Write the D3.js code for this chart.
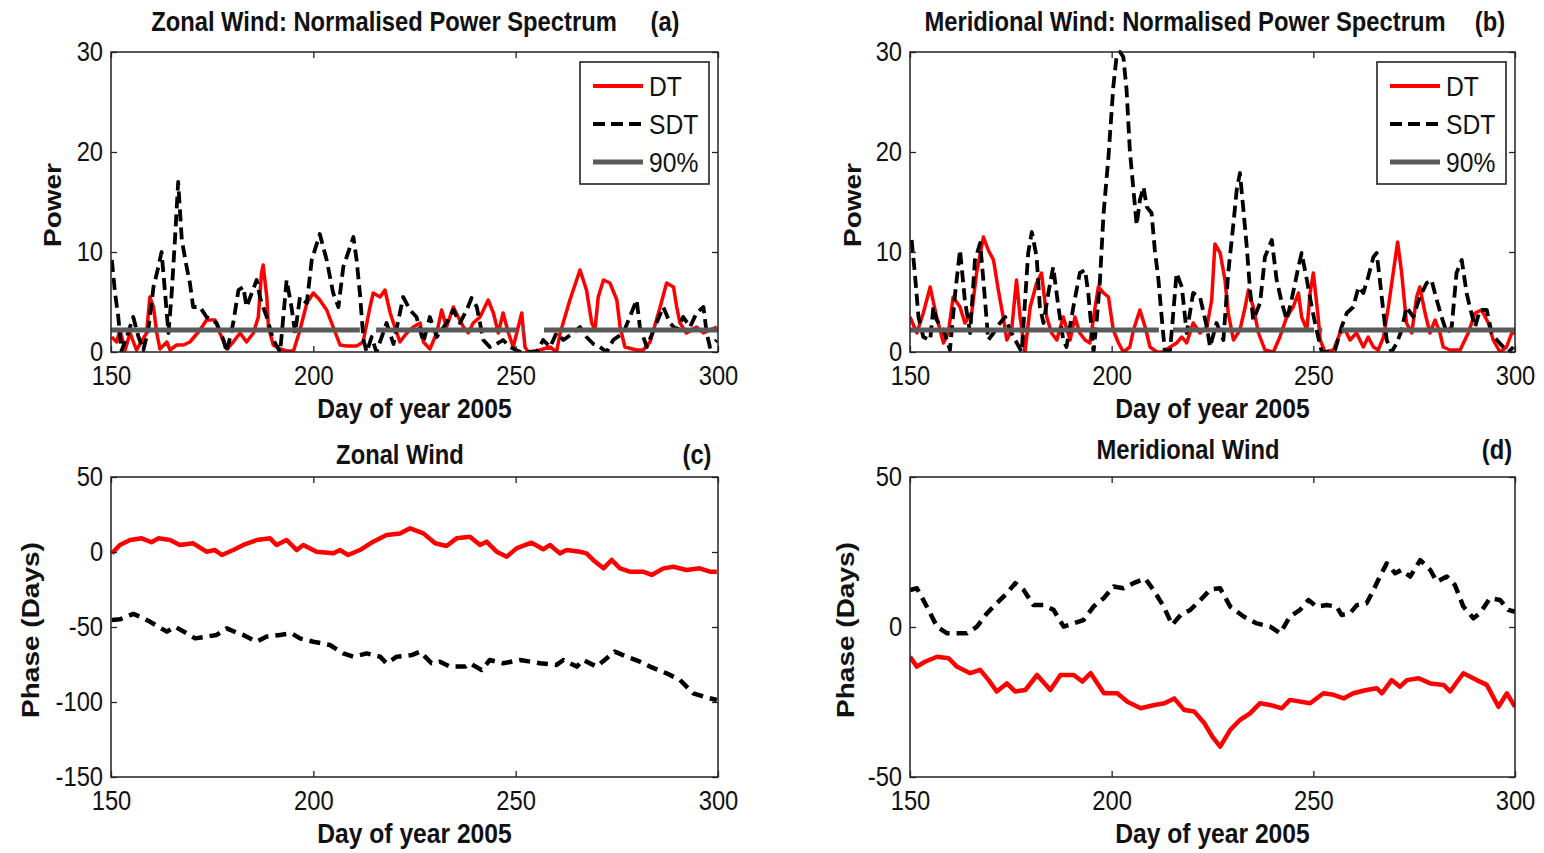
<!DOCTYPE html>
<html>
<head>
<meta charset="utf-8">
<script src="https://cdn.jsdelivr.net/npm/d3@7"></script>
<style>
  body { margin: 0; background: #fff; }
  text { font-family: "Liberation Sans", Arial, sans-serif; fill: #111; }
</style>
</head>
<body>
<script>
// ---- data: [day of year, value] ----

// (a) zonal wind, normalised power
var zonalDT = [[150.2,1.5],[151.4,1.0],[152.2,2.2],[153.5,0.2],[154.7,1.9],[156.3,0.2],[158.8,1.9],[159.6,5.5],[160.5,4.5],[161.3,1.9],[162.1,0.3],[163.8,1.0],[164.6,0.2],[166.2,0.7],[167.9,0.7],[169.5,1.0],[172,2.2],[173.6,3.2],[175.7,3.2],[176.9,1.9],[178.6,0.3],[180.2,1.0],[181.9,1.9],[183.5,1.0],[185.2,1.9],[186.4,3.5],[187.2,7.9],[187.6,8.7],[188.5,5.5],[188.9,2.5],[190.1,0.7],[191.8,0.3],[193.4,0.1],[195.1,0.1],[196.7,2.2],[198.4,4.9],[200,5.9],[201.6,5.2],[203.3,4.2],[204.9,2.5],[206.6,0.7],[208.2,0.6],[210.7,0.6],[212.3,1.0],[214,4.5],[214.8,5.9],[216.5,5.5],[217.7,6.2],[219,3.9],[219.8,2.9],[221.4,1.0],[223.1,1.9],[224.7,2.5],[226.4,2.9],[227.2,1.0],[228.8,0.3],[230.5,1.9],[231.7,4.2],[232.9,2.5],[234.6,4.5],[235.8,3.5],[237.1,2.5],[238.3,1.9],[239.5,2.9],[241.2,3.5],[243.2,5.2],[244.5,3.9],[245.7,1.9],[246.9,3.9],[248.2,1.9],[249.4,0.5],[251.5,3.9],[252.3,0.5],[253.1,0.0],[256,0.2],[258.5,0.5],[260.1,0.0],[261,1.9],[263.4,5.2],[265.9,8.2],[267.5,6.2],[268.8,2.9],[269.6,2.2],[270.4,5.5],[271.7,7.2],[273.3,6.9],[275,5.2],[275.8,2.5],[277,0.5],[279.9,0.2],[281.5,0.2],[283.2,1.0],[285.7,4.5],[287.3,6.9],[289,6.5],[289.8,4.5],[290.6,2.9],[292.2,1.9],[294.7,2.5],[296.4,1.9],[298,2.2],[299.7,2.5]];

var zonalSDT = [[150.2,9.2],[151,5.9],[151.8,3.5],[152.6,0.1],[153.9,1.5],[155.5,3.5],[156.8,1.5],[158,0.2],[159.2,2.2],[160.5,6.5],[161.7,8.5],[162.5,10.0],[163.3,6.2],[164.2,1.9],[165,5.9],[165.8,11.2],[166.6,17.0],[167.5,11.2],[168.7,8.5],[169.5,6.9],[170.3,4.5],[172,4.5],[173.6,3.5],[176.1,2.9],[177.8,1.2],[178.6,0.0],[180.2,2.9],[181.5,6.2],[182.7,6.5],[183.5,4.5],[184.8,5.9],[186,7.2],[186.8,5.5],[187.6,4.5],[188.5,3.5],[190.1,1.2],[191.8,0.0],[193.4,7.2],[194.6,4.5],[195.5,1.9],[196.7,5.5],[198.4,4.9],[199.6,9.2],[201.6,11.8],[203.3,9.2],[204.9,5.9],[206.2,4.5],[207.4,8.5],[209.9,11.5],[210.7,9.2],[211.5,5.9],[212.4,1.2],[213.2,0.0],[214.4,1.5],[215.6,0.0],[218.1,2.9],[219.8,0.8],[222.2,5.5],[223.9,4.2],[225.5,3.5],[227.2,1.0],[228.8,3.5],[230.5,1.5],[232.9,2.9],[234.6,4.2],[236.2,2.9],[237.9,4.2],[239.1,5.4],[240.4,4.5],[242,1.2],[243.6,0.5],[245.3,0.8],[246.9,1.2],[248.6,0.5],[251.1,0.0],[252.3,0.0],[255.2,0.0],[256.8,1.2],[258.5,0.5],[260.1,1.9],[261.8,1.2],[264.2,1.9],[265.9,2.5],[267.5,1.5],[269.2,0.8],[270.8,0.5],[272.5,0.0],[274.1,1.2],[276.6,1.9],[278.2,3.5],[279.9,5.2],[280.7,2.5],[282.4,0.5],[284.8,2.9],[286.5,4.5],[288.1,2.9],[289.8,2.2],[291.4,3.5],[293.1,2.5],[294.7,3.9],[296.4,4.5],[297.2,1.9],[298,0.5],[299.7,1.2]];

// (b) meridional wind, normalised power
var merDT = [[150,3.5],[151.7,1.9],[153.3,3.9],[155,6.5],[156.6,3.5],[158.3,0.9],[159.5,1.9],[160.7,5.5],[162.4,4.5],[163.6,2.9],[165.3,3.9],[166.5,7.9],[168.2,11.5],[169.4,10.2],[170.7,9.2],[171.9,6.2],[173.1,3.5],[174,1.2],[175.2,2.2],[176.4,7.2],[177.3,3.5],[178.5,0.0],[179.8,4.5],[181.4,6.9],[182.6,7.9],[183.9,3.5],[185.1,1.9],[186.4,1.2],[188,3.5],[189.7,1.2],[190.9,3.5],[192.1,1.9],[193.4,1.2],[194.6,0.9],[195.9,4.5],[196.7,6.5],[198,5.9],[199.2,5.5],[200.4,2.2],[201.7,0.9],[202.9,0.0],[204.5,0.5],[205.4,2.2],[207,4.2],[208.3,2.5],[209.5,0.5],[211.2,0.0],[212.8,0.0],[214.5,0.5],[216.1,0.9],[217.4,1.5],[218.6,0.9],[220.2,2.9],[221.9,1.9],[223.6,2.5],[224.8,5.2],[225.6,10.8],[226.9,9.9],[228.1,7.2],[228.9,3.9],[230.2,1.2],[231.8,2.2],[233.1,4.5],[233.9,6.2],[235.1,4.5],[236.4,1.9],[238,0.2],[240.1,0.0],[241.7,1.5],[243.4,3.5],[245,4.5],[246.3,5.9],[247.1,3.5],[248.4,2.2],[249.2,5.9],[250,7.9],[251.2,3.5],[251.7,1.2],[252.9,0.0],[255,0.2],[256.6,1.9],[257.9,2.2],[259.1,1.2],[260.7,1.9],[262.4,0.5],[263.6,1.5],[264.9,0.5],[266.1,0.2],[267.4,1.5],[268.6,4.5],[269.8,7.9],[270.9,11.0],[271.9,7.9],[273.1,2.9],[274.4,1.9],[275.6,5.5],[276.4,6.5],[277.7,3.9],[278.9,1.9],[280.2,3.2],[281.4,1.9],[282.2,0.5],[283.9,0.2],[286.4,0.2],[288.4,1.9],[290.1,3.9],[291.7,4.2],[293.4,2.9],[294.6,1.2],[296.3,0.0],[297.9,0.5],[299.2,1.9],[300,1.9]];

var merSDT = [[150.4,11.2],[151.2,7.9],[152.1,3.5],[153.3,1.5],[155,1.2],[155.8,4.5],[156.6,3.2],[158.3,2.2],[159.9,0.2],[161.2,5.9],[162.4,10.2],[163.6,5.2],[164.9,1.9],[166.1,9.2],[167.4,10.9],[168.6,5.2],[169.4,1.2],[170.7,1.9],[172.3,2.9],[173.6,3.5],[174.8,2.2],[176.5,0.9],[177.7,0.0],[179.3,9.9],[180.2,12.0],[181.4,9.5],[182.2,4.5],[183.1,2.9],[184.3,5.9],[185.5,8.5],[186.8,4.5],[188,1.2],[188.8,0.5],[190.5,4.5],[192.1,7.9],[193.4,8.2],[194.2,5.9],[195.5,0.0],[196.3,3.2],[197.1,7.2],[198,13.9],[199.2,19.5],[200.4,26.5],[201.2,29.5],[202.1,30.0],[202.9,29.5],[203.7,26.2],[204.5,20.2],[205.4,16.2],[206.2,12.7],[207,15.2],[207.9,16.5],[208.7,14.5],[209.9,13.9],[210.7,10.2],[211.6,7.2],[212.4,3.5],[213.2,0.0],[214.5,0.2],[216.1,7.9],[217.4,6.5],[218.6,1.9],[220.2,5.9],[221.9,5.5],[223.6,2.5],[224.4,0.5],[226,2.9],[227.7,1.2],[228.9,7.9],[230.2,12.9],[231,16.2],[231.8,17.9],[232.6,14.5],[233.5,10.5],[234.3,6.2],[235.1,3.2],[236.8,4.9],[238,9.5],[239.7,11.2],[240.9,7.2],[242.2,4.9],[243.4,3.2],[244.6,5.2],[246.3,8.5],[247.1,9.9],[248.4,7.2],[249.6,4.5],[250.8,2.2],[252.1,0.0],[253.3,0.0],[255.4,0.2],[257,2.5],[258.3,3.9],[259.9,4.5],[261.2,6.5],[262.4,5.9],[263.6,7.5],[264.9,9.5],[265.7,9.9],[266.5,7.2],[267.4,3.9],[268.2,1.2],[269.4,0.0],[270.7,0.9],[271.9,2.2],[273.1,4.5],[274.8,3.5],[276.4,5.5],[278.1,6.9],[279.3,7.2],[280.6,5.2],[281.8,3.5],[283.1,1.9],[284.3,2.5],[285.5,7.9],[286.8,9.2],[288,5.9],[288.8,4.5],[290.1,2.5],[291.3,4.2],[293,4.2],[294.2,1.9],[295.5,1.2],[297.1,0.5],[298.4,0.0],[299.6,0.5]];

// 90% significance level: [start day, end day, power]
var zonalSig90 = [[150,211.5,2.2],[215.5,250.2,2.2],[251.5,252.2,2.2],[257,300,2.2]];
var merSig90 = [[150,211.7,2.2],[215.2,250.2,2.2],[251.5,252.2,2.2],[257,300,2.2]];

// (c) zonal wind phase, days
var zonalPhaseDT = [[150.2,-0.9],[152.2,4.7],[154.7,8],[157.6,9.1],[160,6.5],[161.7,9.1],[164.6,8],[167,4.7],[170.3,5.8],[173.6,0.2],[175.7,1.3],[177.4,-2],[180.2,1.3],[182.7,4.7],[186,8],[189.3,9.1],[190.9,4.7],[193.4,8],[195.9,1.3],[197.5,4.7],[200.8,0.2],[204.9,-0.9],[206.6,1.3],[208.6,-2],[211.5,1.3],[214.8,6.9],[218.1,11.3],[221.4,12.4],[223.9,15.8],[227.2,12.4],[230.1,5.8],[232.9,4.0],[235.4,9.1],[238.7,10.2],[241.2,4.7],[242.8,6.9],[245.3,0.2],[247.8,-3.1],[250.2,2.4],[253.9,6.2],[256.8,1.8],[258.5,4.7],[260.9,-0.9],[262.6,1.3],[265.9,0.2],[267.5,-0.9],[269.6,-6.4],[271.7,-10.9],[273.7,-5.3],[275.8,-10.9],[278.2,-13.1],[281.5,-13.1],[283.6,-15.3],[286.5,-10.9],[289,-9.8],[292.2,-12],[295.5,-10.9],[298,-13.1],[299.7,-13.1]];

var zonalPhaseSDT = [[150.2,-45.3],[152.2,-44.9],[155.5,-41.3],[157.2,-43.1],[159.6,-46.4],[161.7,-49.8],[163.8,-53.1],[165.8,-49.8],[168.7,-54.2],[170.8,-57.6],[173.6,-56.4],[176.1,-55.3],[178.6,-50.9],[181.1,-53.8],[182.7,-55.3],[186,-59.8],[188.5,-56.4],[191.8,-55.3],[194.6,-54.2],[196.7,-57.6],[200,-59.8],[204.1,-62],[207.4,-67.6],[209.9,-69.8],[213.2,-67.6],[216.5,-69.8],[218.1,-74.2],[220.6,-69.8],[224.3,-68.7],[226.4,-66.4],[229.2,-74.2],[231.3,-73.1],[233.8,-76.4],[237.5,-76.4],[238.7,-74.2],[241.6,-78.7],[243.6,-72],[246.9,-74.2],[251.1,-72],[256,-74.2],[260.1,-75.3],[261.8,-72],[265.1,-76.4],[266.7,-72],[270,-76.4],[272.5,-70.9],[274.5,-66.4],[277.4,-69.8],[280.7,-73.1],[283.2,-76.4],[287.3,-80.9],[290.6,-85.3],[293.9,-94.2],[296.4,-96.4],[299.7,-98.7]];

// (d) meridional wind phase, days
var merPhaseDT = [[150,-9.9],[151.7,-13.2],[153.7,-11.6],[156.7,-9.9],[159.6,-10.4],[161.6,-13.2],[164.9,-15.4],[167.4,-14.3],[169.5,-17.7],[171.5,-21.5],[174,-18.8],[176.1,-21.5],[178.6,-21],[181.5,-16],[184.8,-21],[187.3,-16],[190.6,-16],[192.7,-18.2],[194.8,-15.4],[198.1,-22.1],[201.4,-22.1],[203.9,-24.9],[207.2,-27.1],[210.6,-26],[213.1,-25.4],[215.5,-23.8],[218,-27.7],[220.5,-28.2],[223,-32.1],[225,-36.6],[226.9,-39.9],[229.4,-34.3],[231.8,-31],[234.3,-28.8],[236.8,-25.4],[239.3,-26],[242.2,-27.1],[244.2,-24.3],[249.2,-25.4],[252.5,-22.1],[255,-22.6],[257.5,-23.8],[259.9,-22.1],[263.2,-21],[265.7,-20.4],[267,-22.1],[269.4,-17.7],[271.5,-19.9],[273.2,-17.7],[276.1,-17.1],[279,-18.8],[282.3,-19.3],[283.9,-21.5],[287.2,-15.4],[290.5,-17.7],[293,-19.3],[295.9,-26.6],[298,-22.1],[300,-26.6]];

var merPhaseSDT = [[150,12.3],[151.7,12.9],[153.3,9],[155,4.6],[156.7,0.1],[159.2,-2.1],[161.6,-2.1],[164.1,-2.1],[166.6,0.1],[169.1,4.6],[171.5,7.9],[174,11.2],[176.1,14.6],[178.2,12.3],[180.6,7.3],[183.1,7.3],[185.6,5.7],[188.1,0.1],[190.6,1.2],[193,2.3],[195.5,6.8],[198,9.6],[200.5,13.5],[202.9,12.9],[205.4,14.6],[208.3,16.2],[210.4,12.3],[212.9,6.8],[215,0.7],[217.1,4],[219.5,5.7],[222,9],[224.5,12.5],[226.9,12.9],[229.4,6.8],[232.7,3.5],[236,1.2],[239.3,0.1],[241.8,-2.1],[244.2,3.5],[246.7,5.7],[248.8,9],[250.8,6.8],[253.3,7.3],[255.8,6.8],[257,4],[259.1,4.6],[260.8,7.3],[263.2,7.9],[264.9,12.3],[266.5,16.8],[268.2,21.2],[270.3,17.9],[271.9,19],[274,16.8],[276.5,22.3],[279,19],[280.6,15.1],[283.1,16.8],[285.1,14],[287.2,6.8],[289.7,2.9],[291.3,4.6],[293.8,9.6],[296.3,9],[298.3,5.7],[300,5.1]];

var dayTicks = [150, 200, 250, 300];
var powerTicks = [0, 10, 20, 30];
var zonalPhaseTicks = [50, 0, -50, -100, -150];
var merPhaseTicks = [50, 0, -50];
var legendLabels = ["DT", "SDT", "90%"];

// ---- drawing ----
var svgWidth = 1544;
var svgHeight = 853;
var squeeze = 0.88;   // the figure text is slightly condensed

var svg = d3.select("body").append("svg")
    .attr("width", svgWidth)
    .attr("height", svgHeight);

var red = "#ff0000";
var grey = "#5a5a5a";

function addText(x, y, str, opts) {
    opts = opts || {};
    var t = `translate(${x},${y}) scale(${squeeze},1)` + (opts.rotate ? " rotate(-90)" : "");
    svg.append("text")
        .attr("transform", t)
        .attr("text-anchor", opts.anchor || "middle")
        .style("font-size", (opts.size || 28) + "px")
        .style("font-weight", opts.bold ? "bold" : "normal")
        .text(str);
}

function drawPanel(p) {
    var x = d3.scaleLinear().domain([150, 300]).range([p.left, p.right]);
    var y = d3.scaleLinear().domain(p.yDomain).range([p.bottom, p.top]);

    svg.append("clipPath").attr("id", p.id)
        .append("rect")
        .attr("x", p.left).attr("y", p.top - 2)
        .attr("width", p.right - p.left).attr("height", p.bottom - p.top + 2);

    var plot = svg.append("g").attr("clip-path", `url(#${p.id})`);
    var line = d3.line().x(d => x(d[0])).y(d => y(d[1]));

    p.series.forEach(function (s) {
        plot.append("path")
            .datum(s.data)
            .attr("d", line)
            .attr("fill", "none")
            .attr("stroke", s.color)
            .attr("stroke-width", s.width)
            .attr("stroke-dasharray", s.dash || null)
            .attr("stroke-linejoin", "round");
    });

    if (p.sig) {
        plot.selectAll(".sig").data(p.sig).enter()
            .append("line")
            .attr("x1", d => x(d[0])).attr("x2", d => x(d[1]))
            .attr("y1", d => y(d[2])).attr("y2", d => y(d[2]))
            .attr("stroke", grey)
            .attr("stroke-width", 5);
    }

    // axes with inward ticks on all four sides
    var fmt = d => String(d);
    var axes = [
        svg.append("g").attr("transform", `translate(0,${p.bottom})`)
            .call(d3.axisBottom(x).tickValues(dayTicks).tickSize(-6).tickPadding(14).tickFormat(fmt)),
        svg.append("g").attr("transform", `translate(0,${p.top})`)
            .call(d3.axisTop(x).tickValues(dayTicks).tickSize(-6).tickFormat("")),
        svg.append("g").attr("transform", `translate(${p.left},0)`)
            .call(d3.axisLeft(y).tickValues(p.yTicks).tickSize(-6).tickPadding(9).tickFormat(fmt)),
        svg.append("g").attr("transform", `translate(${p.right},0)`)
            .call(d3.axisRight(y).tickValues(p.yTicks).tickSize(-6).tickFormat(""))
    ];
    axes.forEach(function (a) {
        a.select(".domain").remove();
        a.attr("color", "#222");
        a.selectAll("line").attr("stroke-width", 1.3);
        a.selectAll("text")
            .attr("transform", `scale(${squeeze},1)`)
            .style("font-size", "27px")
            .style("font-family", "'Liberation Sans', Arial, sans-serif")
            .attr("fill", "#111");
    });

    svg.append("rect")
        .attr("x", p.left).attr("y", p.top)
        .attr("width", p.right - p.left).attr("height", p.bottom - p.top)
        .attr("fill", "none")
        .attr("stroke", "#222")
        .attr("stroke-width", 1.5);

    addText(p.titleX, p.titleY, p.title, { bold: true, size: 27 });
    addText(p.tagX, p.titleY, p.tag, { bold: true, size: 27 });
    addText((p.left + p.right) / 2, p.bottom + 66, "Day of year 2005", { bold: true, size: 28 });
    addText(p.ylabelX, p.ylabelY, p.ylabel, { bold: true, size: 28, rotate: true });

    if (p.legend) {
        var lx = p.right - 138, ly = p.top + 10;
        svg.append("rect")
            .attr("x", lx).attr("y", ly)
            .attr("width", 129).attr("height", 122)
            .attr("fill", "#fff")
            .attr("stroke", "#222")
            .attr("stroke-width", 1.6);
        var styles = [
            { color: red, width: 4, dash: null },
            { color: "#000", width: 4, dash: "12,6" },
            { color: grey, width: 5, dash: null }
        ];
        legendLabels.forEach(function (lab, i) {
            var yy = ly + 24 + i * 38;
            svg.append("line")
                .attr("x1", lx + 13).attr("x2", lx + 63)
                .attr("y1", yy).attr("y2", yy)
                .attr("stroke", styles[i].color)
                .attr("stroke-width", styles[i].width)
                .attr("stroke-dasharray", styles[i].dash);
            addText(lx + 69, yy + 10, lab, { anchor: "start", size: 28 });
        });
    }
}

var powerSeries = function (dt, sdt) {
    return [
        { data: dt, color: red, width: 3.5 },
        { data: sdt, color: "#000", width: 3.8, dash: "12,6" }
    ];
};
var phaseSeries = function (dt, sdt) {
    return [
        { data: dt, color: red, width: 4.5 },
        { data: sdt, color: "#000", width: 4.5, dash: "11,7" }
    ];
};

drawPanel({
    id: "clipA", left: 111, right: 718, top: 52, bottom: 352,
    yDomain: [0, 30], yTicks: powerTicks,
    series: powerSeries(zonalDT, zonalSDT), sig: zonalSig90, legend: true,
    title: "Zonal Wind: Normalised Power Spectrum", titleX: 384, titleY: 31,
    tag: "(a)", tagX: 665,
    ylabel: "Power", ylabelX: 61, ylabelY: 205
});

drawPanel({
    id: "clipB", left: 910, right: 1515, top: 52, bottom: 352,
    yDomain: [0, 30], yTicks: powerTicks,
    series: powerSeries(merDT, merSDT), sig: merSig90, legend: true,
    title: "Meridional Wind: Normalised Power Spectrum", titleX: 1185, titleY: 31,
    tag: "(b)", tagX: 1490,
    ylabel: "Power", ylabelX: 861, ylabelY: 205
});

drawPanel({
    id: "clipC", left: 111, right: 718, top: 477, bottom: 777,
    yDomain: [-150, 50], yTicks: zonalPhaseTicks,
    series: phaseSeries(zonalPhaseDT, zonalPhaseSDT),
    title: "Zonal Wind", titleX: 400, titleY: 464,
    tag: "(c)", tagX: 697,
    ylabel: "Phase (Days)", ylabelX: 39, ylabelY: 630
});

drawPanel({
    id: "clipD", left: 910, right: 1515, top: 477, bottom: 777,
    yDomain: [-50, 50], yTicks: merPhaseTicks,
    series: phaseSeries(merPhaseDT, merPhaseSDT),
    title: "Meridional Wind", titleX: 1188, titleY: 459,
    tag: "(d)", tagX: 1497,
    ylabel: "Phase (Days)", ylabelX: 854, ylabelY: 630
});
</script>
</body>
</html>
